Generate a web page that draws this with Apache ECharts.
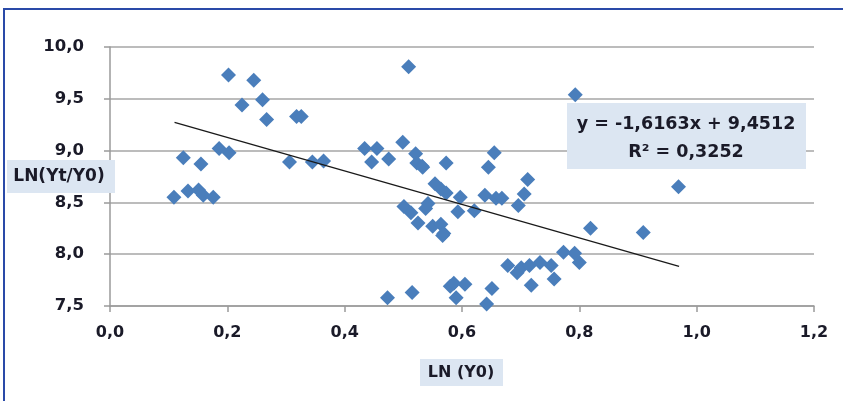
<!DOCTYPE html>
<html>
<head>
<meta charset="utf-8">
<script src="https://cdn.jsdelivr.net/npm/echarts@6/dist/echarts.min.js"></script>
<style>html,body{margin:0;padding:0;background:#fff}#c{width:843px;height:401px}</style>
</head>
<body>
<div id="c"></div>
<script>
const xValues = [0.109,0.125,0.133,0.151,0.155,0.159,0.176,0.186,0.203,0.202,0.245,0.225,0.260,0.267,0.306,0.318,0.326,0.345,0.364,
0.509,0.793,0.434,0.455,0.446,0.475,0.499,0.521,0.523,0.532,0.573,0.655,0.645,0.712,0.554,0.564,0.573,0.597,0.639,0.658,0.668,0.706,0.696,
0.501,0.513,0.538,0.542,0.525,0.550,0.564,0.569,0.593,0.621,0.819,0.909,0.969,0.773,0.792,0.800,0.678,0.694,0.701,0.715,0.733,0.752,
0.718,0.757,0.473,0.515,0.580,0.586,0.605,0.590,0.651,0.642,0.567,0.533];
const yValues = [8.55,8.93,8.61,8.62,8.87,8.57,8.55,9.02,8.98,9.73,9.68,9.44,9.49,9.30,8.89,9.33,9.33,8.89,8.90,
9.81,9.54,9.02,9.02,8.89,8.92,9.08,8.97,8.88,8.85,8.88,8.98,8.84,8.72,8.68,8.63,8.59,8.55,8.57,8.54,8.54,8.58,8.47,
8.46,8.40,8.44,8.49,8.30,8.27,8.29,8.20,8.41,8.42,8.25,8.21,8.65,8.02,8.01,7.92,7.89,7.82,7.87,7.89,7.92,7.89,
7.70,7.76,7.58,7.63,7.69,7.72,7.71,7.58,7.67,7.52,8.18,8.84];
const trendSlope = -1.6163;
const trendIntercept = 9.4512;
const trendRange = [0.11, 0.97];
const xTicks = [0.0, 1.2, 0.2];
const yTicks = [7.5, 10.0, 0.5];
const eqText = 'y = -1,6163x + 9,4512';
const r2Text = 'R² = 0,3252';
const xTitle = 'LN (Y0)';
const yTitle = 'LN(Yt/Y0)';

const points = xValues.map((x, i) => [x, yValues[i]]);
const trend = trendRange.map(x => [x, trendSlope * x + trendIntercept]);
const fmt = v => v.toFixed(1).replace('.', ',');
const FONT = '"DejaVu Sans"';
const TXT = '#1a1a28';

const chart = echarts.init(document.getElementById('c'));
chart.setOption({
  animation: false,
  grid: {left: 110, right: 29, top: 47, bottom: 95},
  xAxis: {
    type: 'value', min: xTicks[0], max: xTicks[1], interval: xTicks[2],
    axisLine: {show: true, lineStyle: {color: '#9a9a9a', width: 1.5}},
    axisTick: {show: true, length: 6, lineStyle: {color: '#9a9a9a', width: 1.5}},
    splitLine: {show: false},
    axisLabel: {formatter: fmt, margin: 19, fontFamily: 'DejaVu Sans', fontWeight: 'bold', fontSize: 16, color: TXT}
  },
  yAxis: {
    type: 'value', min: yTicks[0], max: yTicks[1], interval: yTicks[2],
    axisLine: {show: true, lineStyle: {color: '#9a9a9a', width: 1.5}},
    axisTick: {show: true, length: 6, lineStyle: {color: '#9a9a9a', width: 1.5}},
    splitLine: {show: true, lineStyle: {color: '#a6a6a6', width: 1.5}},
    axisLabel: {formatter: fmt, margin: 26, fontFamily: 'DejaVu Sans', fontWeight: 'bold', fontSize: 16.5, color: TXT}
  },
  series: [
    {type: 'scatter', data: points, symbol: 'diamond', symbolSize: 15,
     itemStyle: {color: '#4a7ebb', opacity: 1}, z: 3},
    {type: 'line', data: trend, showSymbol: false, symbol: 'none',
     lineStyle: {color: '#1a1a1a', width: 1.3}, z: 4}
  ],
  graphic: [
    {type: 'rect', shape: {x: 4, y: 9, width: 860, height: 420}, style: {fill: 'none', stroke: '#2a4aa8', lineWidth: 2}, z: 10},
    {type: 'rect', shape: {x: 7, y: 160, width: 108, height: 33}, style: {fill: '#dce6f2'}, z: 5},
    {type: 'text', x: 59, y: 177, style: {text: yTitle, align: 'center', verticalAlign: 'middle', font: 'bold 17px ' + FONT, fill: TXT}, z: 6},
    {type: 'rect', shape: {x: 420, y: 359, width: 83, height: 27}, style: {fill: '#dce6f2'}, z: 5},
    {type: 'text', x: 461, y: 373, style: {text: xTitle, align: 'center', verticalAlign: 'middle', font: 'bold 16px ' + FONT, fill: TXT}, z: 6},
    {type: 'rect', shape: {x: 567, y: 103, width: 239, height: 66}, style: {fill: '#dce6f2'}, z: 5},
    {type: 'text', x: 686, y: 124, style: {text: eqText, align: 'center', verticalAlign: 'middle', font: 'bold 17.5px ' + FONT, fill: TXT}, z: 6},
    {type: 'text', x: 686, y: 152, style: {text: r2Text, align: 'center', verticalAlign: 'middle', font: 'bold 17.5px ' + FONT, fill: TXT}, z: 6}
  ]
});
</script>
</body>
</html>
